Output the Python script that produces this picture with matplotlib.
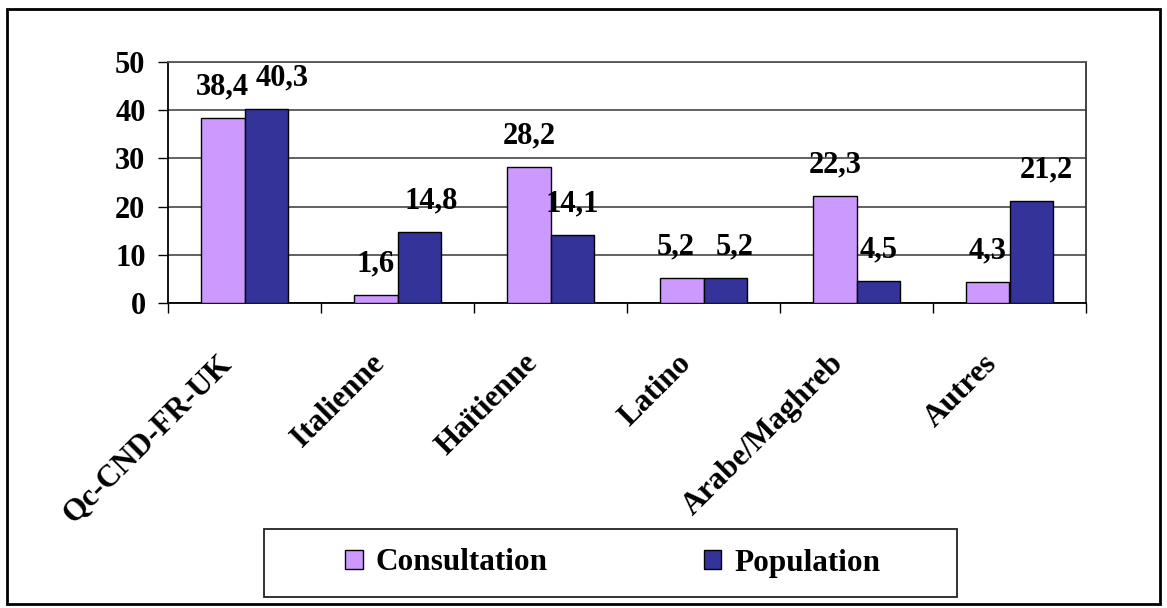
import numpy as np
import matplotlib
matplotlib.use("Agg")
import matplotlib.pyplot as plt
from matplotlib.patches import Rectangle
from matplotlib.transforms import ScaledTranslation

categories = ["Qc-CND-FR-UK", "Italienne", "Haïtienne", "Latino", "Arabe/Maghreb", "Autres"]
consultation = [38.4, 1.6, 28.2, 5.2, 22.3, 4.3]
population = [40.3, 14.8, 14.1, 5.2, 4.5, 21.2]
series_names = ["Consultation", "Population"]
y_ticks = [0, 10, 20, 30, 40, 50]

# petits décalages horizontaux des étiquettes (px), comme dans l'original
nudge_consult = [0, 0, 0, -6, 0, 0]
nudge_pop = [16, 12, 0, 9, 0, 15]

COL_CONS = "#CC99FF"
COL_POP = "#333399"
FONT = "Liberation Serif"
FS = 22

plt.rcParams["font.family"] = FONT
plt.rcParams["font.weight"] = "bold"

fig = plt.figure(figsize=(11.67, 6.08), dpi=100)
ax = fig.add_axes([168 / 1167, 1 - 303 / 608, (1086 - 168) / 1167, (303 - 62) / 608])

x = np.arange(len(categories))
w = 0.284
b1 = ax.bar(x - w / 2, consultation, w, color=COL_CONS, edgecolor="black", linewidth=1.0,
            label=series_names[0], zorder=3)
b2 = ax.bar(x + w / 2, population, w, color=COL_POP, edgecolor="black", linewidth=1.0,
            label=series_names[1], zorder=3)

def fmt(v):
    return f"{v:.1f}".replace(".", ",")

for bars, vals, nud in [(b1, consultation, nudge_consult), (b2, population, nudge_pop)]:
    for rect, v, dx in zip(bars, vals, nud):
        ax.annotate(fmt(v), (rect.get_x() + rect.get_width() / 2, v),
                    xytext=(dx, 31), textcoords="offset pixels",
                    ha="center", va="center", fontsize=FS, fontweight="bold", zorder=4)

ax.set_xlim(-0.5, len(categories) - 0.5)
ax.set_ylim(0, 50)
ax.set_yticks(y_ticks)
ax.tick_params(axis="y", direction="out", length=7.2, width=1.0, pad=9, labelsize=FS)
ax.yaxis.grid(True, color="#555555", linewidth=1.3, zorder=0)
ax.set_axisbelow(True)

ax.set_xticks(np.arange(-0.5, len(categories)), labels=[])
ax.tick_params(axis="x", which="major", direction="out", length=7.2, width=1.0)
ax.set_xticks(x, labels=categories, minor=True)
ax.tick_params(axis="x", which="minor", length=0, pad=0, labelsize=22.5)
shift = ScaledTranslation(-0.17, -0.56, fig.dpi_scale_trans)
for lab in ax.get_xticklabels(minor=True):
    lab.set_rotation(45)
    lab.set_ha("right")
    lab.set_va("center")
    lab.set_rotation_mode("anchor")
    lab.set_fontweight("bold")
    lab.set_transform(lab.get_transform() + shift)

for s in ["left", "bottom"]:
    ax.spines[s].set_color("black")
    ax.spines[s].set_linewidth(1.3)
ax.spines["right"].set_color("#333333")
ax.spines["right"].set_linewidth(1.3)
ax.spines["top"].set_color("#555555")
ax.spines["top"].set_linewidth(1.3)

# cadre extérieur du graphique
fig.patches.append(Rectangle((7 / 1167, 1 - 604 / 608), (1160 - 7) / 1167, (604 - 9) / 608,
                             transform=fig.transFigure, fill=False, edgecolor="black",
                             linewidth=2.0))
# cadre de la légende
fig.patches.append(Rectangle((264 / 1167, 1 - 597 / 608), (957 - 264) / 1167, (597 - 529) / 608,
                             transform=fig.transFigure, fill=False, edgecolor="#222222",
                             linewidth=1.3))

fig.legend(handles=[b1, b2], labels=series_names, loc="center",
           bbox_to_anchor=(613 / 1167, 1 - 563 / 608), ncol=2, frameon=False,
           prop={"family": FONT, "weight": "bold", "size": 22.5},
           handlelength=0.55, handleheight=0.6, handletextpad=0.42, columnspacing=5.0)

fig.savefig("out.png", dpi=100)
